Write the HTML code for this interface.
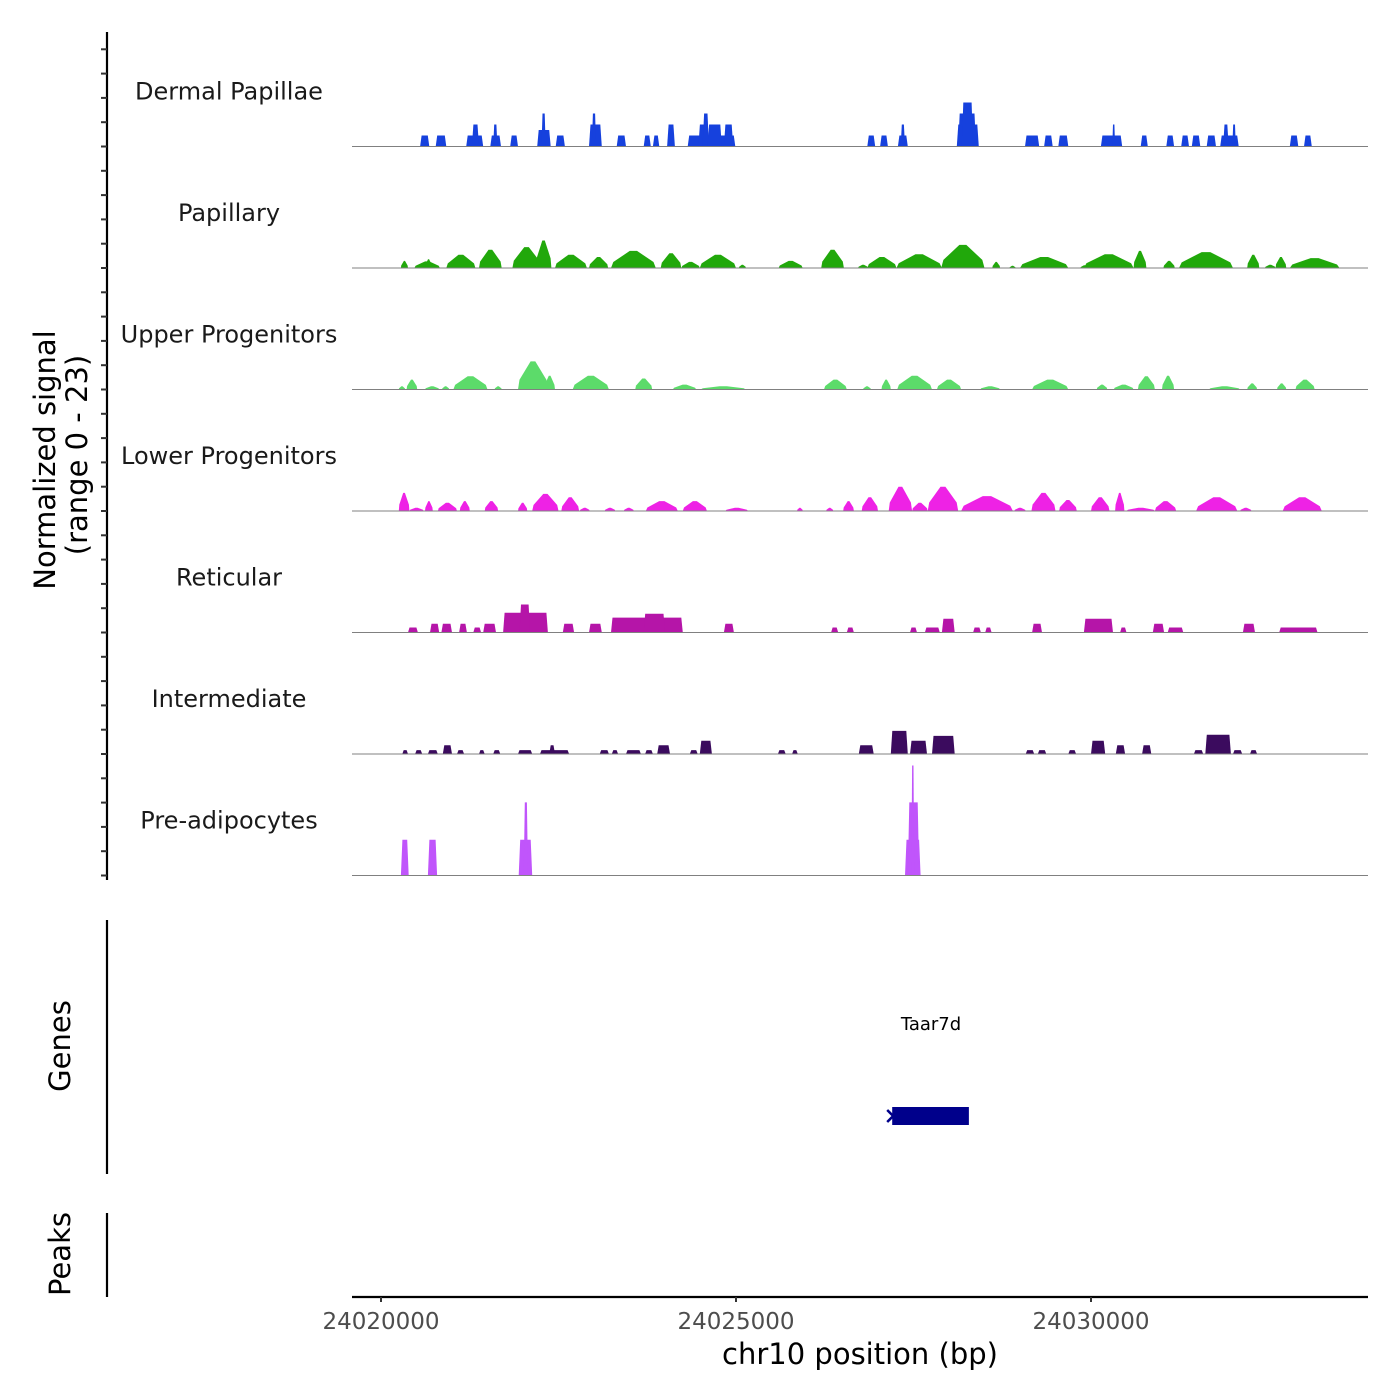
<!DOCTYPE html>
<html><head><meta charset="utf-8"><style>
html,body{margin:0;padding:0;background:#fff;}
svg{display:block;font-family:"DejaVu Sans","Liberation Sans",sans-serif;}
</style></head><body>
<svg id="chart" width="1400" height="1400" viewBox="0 0 1400 1400" xmlns="http://www.w3.org/2000/svg">
<rect width="1400" height="1400" fill="#fff"/>
<g id="tracks"></g>
<g id="yaxis"></g>
<text transform="translate(55,460) rotate(-90)" text-anchor="middle" font-size="29" fill="#000">Normalized signal</text>
<text transform="translate(87,455) rotate(-90)" text-anchor="middle" font-size="29" fill="#000">(range 0 - 23)</text>
<line x1="107" y1="920" x2="107" y2="1174" stroke="#000" stroke-width="2.2"/>
<text transform="translate(70,1046) rotate(-90)" text-anchor="middle" font-size="29" fill="#000">Genes</text>
<text x="931" y="1030" text-anchor="middle" font-size="18" fill="#000">Taar7d</text>
<g id="genes"></g>
<line x1="107" y1="1213" x2="107" y2="1297" stroke="#000" stroke-width="2.2"/>
<text transform="translate(70,1254) rotate(-90)" text-anchor="middle" font-size="29" fill="#000">Peaks</text>
<g id="xaxis"></g>
<text x="860" y="1364" text-anchor="middle" font-size="29" fill="#000">chr10 position (bp)</text>
</svg>
<script>
// data: peaks as [startKb, endKb, signal] with kb offset from 24020000
const trackNames = ["Dermal Papillae","Papillary","Upper Progenitors","Lower Progenitors","Reticular","Intermediate","Pre-adipocytes"];
const trackColors = ["#1641dd","#21a80b","#5cdb6a","#ee22e5","#b515a8","#3b0b5e","#c055fb"];
const dermalPapillae = [[0.55,0.68,2],[0.77,0.92,2],[1.2,1.44,2],[1.28,1.38,4],[1.54,1.69,2],[1.58,1.64,4],[1.82,1.93,2],[2.2,2.39,3],[2.26,2.32,6],[2.46,2.59,2],[2.93,3.11,4],[2.97,3.03,6],[3.32,3.45,2],[3.7,3.8,2],[3.83,3.92,2],[4.03,4.14,4],[4.32,4.99,2],[4.47,4.58,4],[4.53,4.62,6],[4.6,4.8,4],[4.83,4.96,4],[6.85,6.96,2],[7.03,7.14,2],[7.28,7.42,2],[7.32,7.38,4],[8.11,8.42,4],[8.13,8.38,6],[8.18,8.34,8],[9.07,9.27,2],[9.34,9.46,2],[9.54,9.68,2],[10.14,10.44,2],[10.3,10.34,4],[10.7,10.8,2],[11.06,11.17,2],[11.27,11.38,2],[11.42,11.54,2],[11.63,11.76,2],[11.82,12.08,2],[11.86,11.94,4],[11.99,12.04,4],[12.8,12.92,2],[13.0,13.11,2]];
const papillary = [[0.28,0.38,1.3],[0.47,0.83,1.2],[0.62,0.72,1.6],[0.92,1.33,2.4],[1.38,1.7,3.3],[1.85,2.25,3.8],[2.18,2.4,5.0],[2.45,2.9,2.4],[2.93,3.2,2.0],[3.24,3.87,3.1],[3.94,4.23,2.7],[4.23,4.49,1.1],[4.49,5.0,2.4],[5.04,5.14,0.6],[5.6,5.94,1.3],[6.2,6.52,3.3],[6.72,6.86,0.6],[6.85,7.26,2.0],[7.26,7.9,2.5],[7.89,8.5,4.2],[8.61,8.72,1.1],[8.85,8.94,0.4],[9.0,9.68,2.0],[9.85,9.97,0.5],[9.9,10.6,2.5],[10.6,10.78,3.1],[11.02,11.18,1.3],[11.24,12.0,2.9],[12.2,12.37,2.4],[12.45,12.6,0.6],[12.6,12.75,2.0],[12.8,13.5,1.8]];
const upperProgenitors = [[0.25,0.34,0.6],[0.36,0.51,1.8],[0.62,0.82,0.6],[0.86,0.96,0.6],[1.02,1.5,2.4],[1.6,1.7,0.6],[1.93,2.35,5.1],[2.3,2.45,2.5],[2.7,3.21,2.5],[3.58,3.82,2.0],[4.11,4.44,0.9],[4.5,5.14,0.6],[6.24,6.56,1.8],[6.79,6.9,0.6],[7.05,7.18,1.8],[7.27,7.76,2.5],[7.83,8.17,1.8],[8.44,8.72,0.6],[9.17,9.68,1.8],[10.08,10.23,0.9],[10.32,10.6,0.9],[10.66,10.9,2.4],[11.0,11.17,2.5],[11.66,12.1,0.6],[12.2,12.34,1.1],[12.62,12.75,1.1],[12.88,13.15,1.8]];
const lowerProgenitors = [[0.25,0.4,3.3],[0.4,0.6,0.6],[0.62,0.73,1.8],[0.8,1.07,1.5],[1.11,1.25,1.8],[1.46,1.65,1.8],[1.93,2.06,1.5],[2.13,2.5,3.1],[2.54,2.79,2.5],[2.8,2.94,0.6],[3.15,3.3,0.6],[3.42,3.56,0.6],[3.8,3.94,0.6],[3.73,4.18,1.8],[4.25,4.59,1.8],[4.85,5.17,0.6],[5.86,5.94,0.6],[6.27,6.37,0.6],[6.51,6.66,1.8],[6.77,6.94,0.6],[6.77,7.0,2.5],[7.15,7.48,4.4],[7.48,7.7,1.5],[7.7,8.13,4.4],[8.17,8.9,2.7],[8.92,9.08,0.6],[9.16,9.5,3.3],[9.55,9.8,2.0],[10.0,10.26,2.5],[10.34,10.47,3.3],[10.5,10.9,0.6],[10.9,11.2,1.8],[11.48,12.06,2.5],[12.1,12.26,0.6],[12.7,13.25,2.5]];
const reticular = [[0.38,0.52,0.9],[0.69,0.82,1.6],[0.85,1.0,1.6],[1.1,1.21,1.6],[1.3,1.41,0.9],[1.44,1.62,1.6],[1.72,2.35,3.6],[1.95,2.1,5.1],[2.56,2.72,1.6],[2.93,3.11,1.6],[3.24,4.25,2.7],[3.7,4.0,3.4],[4.83,4.97,1.6],[6.34,6.44,0.9],[6.56,6.66,0.9],[7.45,7.55,0.9],[7.66,7.87,0.9],[7.9,8.08,2.5],[8.34,8.45,0.9],[8.51,8.6,0.9],[9.17,9.31,1.6],[9.9,10.31,2.5],[10.41,10.5,0.9],[10.87,11.03,1.6],[11.08,11.3,0.9],[12.14,12.31,1.6],[12.65,13.19,0.9]];
const intermediate = [[0.3,0.38,0.7],[0.48,0.58,0.7],[0.66,0.8,0.7],[0.87,1.0,1.6],[1.07,1.17,0.7],[1.38,1.46,0.7],[1.58,1.68,0.7],[1.93,2.13,0.7],[2.24,2.65,0.7],[2.37,2.45,1.6],[3.08,3.21,0.7],[3.25,3.34,0.7],[3.45,3.66,0.7],[3.72,3.83,0.7],[3.89,4.07,1.6],[4.35,4.46,0.7],[4.49,4.66,2.4],[5.59,5.7,0.7],[5.79,5.87,0.7],[6.73,6.94,1.6],[7.18,7.42,4.2],[7.45,7.69,2.4],[7.76,8.08,3.3],[9.08,9.2,0.7],[9.25,9.37,0.7],[9.68,9.79,0.7],[10.0,10.2,2.4],[10.35,10.48,1.6],[10.72,10.85,1.6],[11.45,11.58,0.7],[11.61,11.97,3.5],[12.0,12.13,0.7],[12.24,12.34,0.7]];
const preAdipocytes = [[0.28,0.39,6.5],[0.66,0.79,6.5],[1.94,2.13,6.5],[2.01,2.07,13.3],[7.38,7.6,6.5],[7.42,7.58,13.3],[7.47,7.51,20]];
const trackShapes = ["block","mound","mound","mound","block","block","block"];
const geneStartKb = 7.2, geneEndKb = 8.28;
const xTicks = [24020000,24025000,24030000];
const xTickLabels = ["24020000","24025000","24030000"];

const trackData = [dermalPapillae,papillary,upperProgenitors,lowerProgenitors,reticular,intermediate,preAdipocytes];
const NS="http://www.w3.org/2000/svg";
const X0=381, PXKB=71, YU=5.5, TOP=25, TH=121.5;
function xScale(bp){return X0+(bp-24020000)/1000*PXKB;}
function xKb(kb){return X0+kb*PXKB;}
function base(i){return TOP+TH*(i+1);}
function mk(tag,attrs,parent){const e=document.createElementNS(NS,tag);for(const k in attrs)e.setAttribute(k,attrs[k]);parent.appendChild(e);return e;}

const tg=document.getElementById('tracks');
trackData.forEach((peaks,i)=>{
  const b=base(i);
  const g=mk('g',{},tg);
  
  
  const lbl=mk('text',{x:229,y:b-47,'text-anchor':'middle','font-size':'24',fill:'#1a1a1a'},g);
  lbl.textContent=trackNames[i];
  
  
  peaks.forEach(p=>{
    const s=xKb(p[0]), e=xKb(p[1]), h=p[2]*YU, w=e-s;
    let pts;
    if(trackShapes[i]==='block'){const sl=Math.min(1.5,w/4);pts=[[s,b],[s+sl,b-h],[e-sl,b-h],[e,b]];}
    else{const c=(s+e)/2;pts=[[s,b],[s+0.05*w,b-h*0.35],[c-0.08*w,b-h],[c+0.08*w,b-h],[e-0.05*w,b-h*0.35],[e,b]];}
    const poly=mk('polygon',{points:pts.map(q=>q[0].toFixed(1)+','+q[1].toFixed(1)).join(' '),fill:trackColors[i]},g);
    
    
  });
  const bl=mk('line',{x1:352,x2:1368,y1:b,y2:b,stroke:'#808080','stroke-width':1.1},g);
  
  
});

const ya=document.getElementById('yaxis');
const yl=mk('line',{x1:107,x2:107,y1:32,y2:880,stroke:'#000','stroke-width':2.2},ya);


for(let i=0;i<7;i++){for(let j=0;j<5;j++){const y=base(i)-j*TH/5;
  const t=mk('line',{x1:101,x2:107,y1:y,y2:y,stroke:'#333','stroke-width':2},ya);
  
  }}

const gg=document.getElementById('genes');
const gs=xKb(geneStartKb), ge=xKb(geneEndKb);
const gr=mk('rect',{x:gs,y:1107,width:ge-gs,height:18,fill:'#00008b'},gg);


const ga=mk('polyline',{points:(gs-5)+',1110 '+(gs+1)+',1116 '+(gs-5)+',1122',fill:'none',stroke:'#00008b','stroke-width':2.5},gg);



const xa=document.getElementById('xaxis');
const xl=mk('line',{x1:352,x2:1368,y1:1297,y2:1297,stroke:'#000','stroke-width':2.2},xa);


xTicks.forEach((v,k)=>{const x=xScale(v);
  const t=mk('line',{x1:x,x2:x,y1:1297,y2:1302,stroke:'#333','stroke-width':2},xa);
  
  
  const tl=mk('text',{x:x,y:1329,'text-anchor':'middle','font-size':'23',fill:'#4d4d4d'},xa);
  tl.textContent=xTickLabels[k];
  
  });
</script>
</body></html>
